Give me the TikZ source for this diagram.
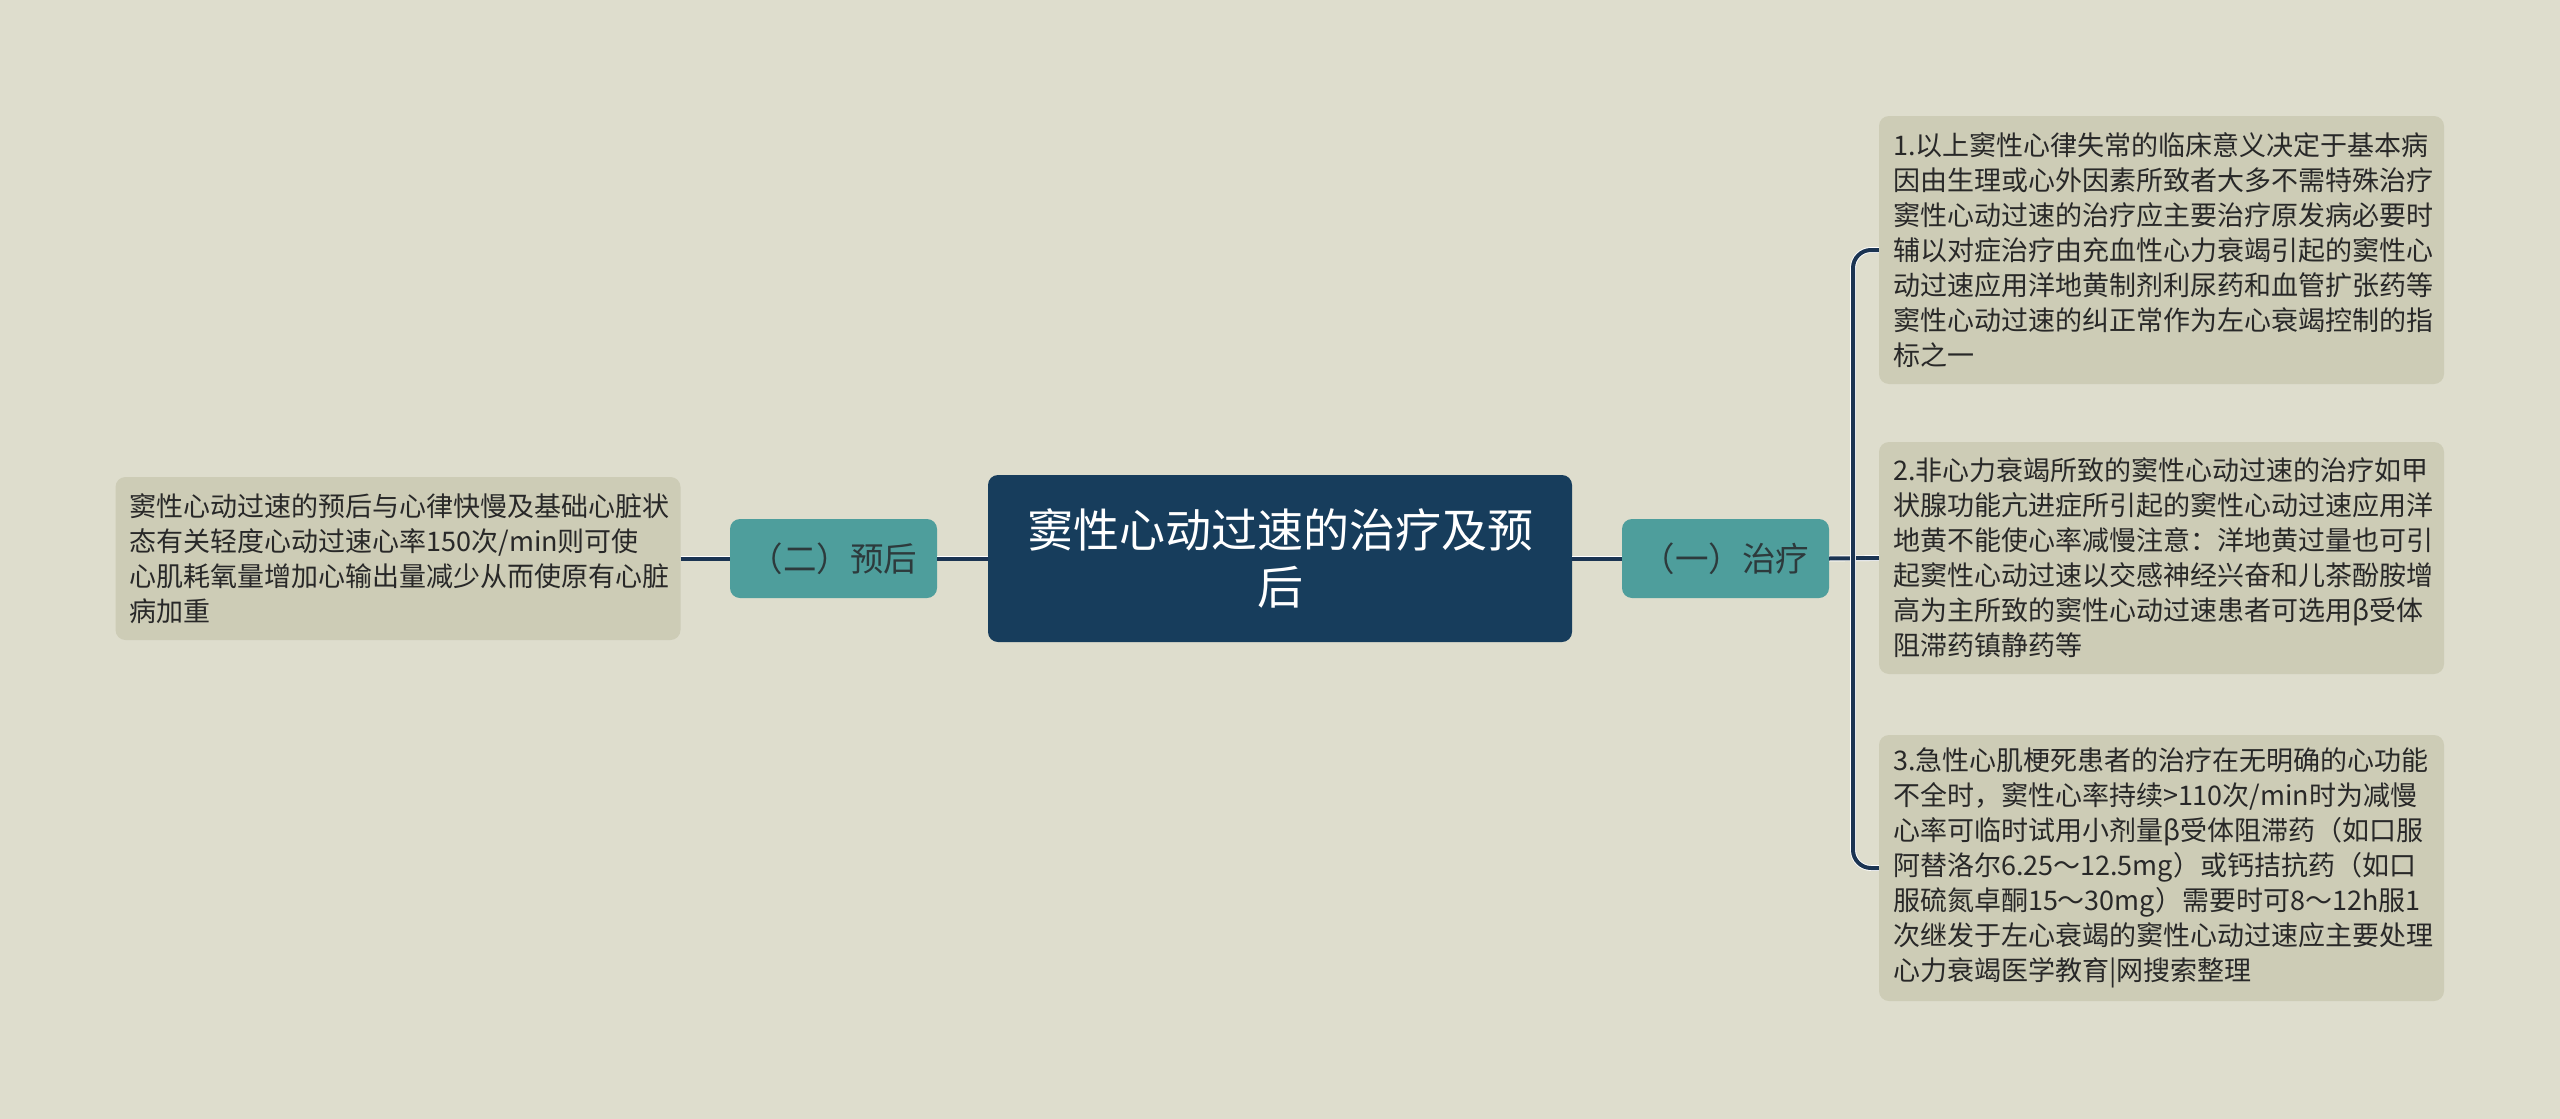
\documentclass[tikz,border=0pt]{standalone}
\usepackage{fontspec}
\newfontfamily\cjk{Noto Sans CJK SC}
\definecolor{bgc}{RGB}{222,221,205}
\definecolor{leafc}{RGB}{205,204,182}
\definecolor{rootc}{RGB}{23,61,92}
\definecolor{branchc}{RGB}{78,158,156}
\definecolor{linec}{RGB}{27,52,82}
\definecolor{txtc}{RGB}{40,40,40}
\definecolor{btxtc}{RGB}{45,58,60}
\tikzset{
  leafbox/.style={fill=leafc, rounded corners=10pt, text=txtc, align=left,
    font=\cjk\fontsize{27}{35}\selectfont, inner xsep=0pt, inner ysep=0pt,
    minimum width=565pt, text width=537pt},
  branchbox/.style={fill=branchc, rounded corners=10pt, text=btxtc,
    font=\cjk\fontsize{33.5}{40}\selectfont, minimum width=207pt, minimum height=79pt, inner sep=0pt},
  rootbox/.style={fill=rootc, rounded corners=10pt, text=white, align=center,
    font=\cjk\fontsize{46}{57}\selectfont, minimum width=584pt, minimum height=167pt, inner sep=0pt},
  conn/.style={draw=white, double=linec, double distance=4pt, line width=0.9pt}
}
\begin{document}
\begin{tikzpicture}[x=1pt,y=-1pt]
\useasboundingbox (0,0) rectangle (2560,1119);
\fill[bgc] (0,0) rectangle (2560,1119);

\node[rootbox] (root) at (1280,558.5) {窦性心动过速的治疗及预\\后};
\node[branchbox] (lb) at (833.5,558.5) {（二）预后};
\node[branchbox] (rb) at (1725.5,558.5) {（一）治疗};

\node[leafbox, minimum height=163pt] (ll) at (398,558.5)
{窦性心动过速的预后与心律快慢及基础心脏状\\态有关轻度心动过速心率150次/min则可使\\心肌耗氧量增加心输出量减少从而使原有心脏\\病加重};

\node[leafbox, minimum height=268pt] (r1) at (2161.5,250)
{1.以上窦性心律失常的临床意义决定于基本病\\因由生理或心外因素所致者大多不需特殊治疗\\窦性心动过速的治疗应主要治疗原发病必要时\\辅以对症治疗由充血性心力衰竭引起的窦性心\\动过速应用洋地黄制剂利尿药和血管扩张药等\\窦性心动过速的纠正常作为左心衰竭控制的指\\标之一};

\node[leafbox, minimum height=232pt] (r2) at (2161.5,558)
{2.非心力衰竭所致的窦性心动过速的治疗如甲\\状腺功能亢进症所引起的窦性心动过速应用洋\\地黄不能使心率减慢注意：洋地黄过量也可引\\起窦性心动过速以交感神经兴奋和儿茶酚胺增\\高为主所致的窦性心动过速患者可选用β受体\\阻滞药镇静药等};

\node[leafbox, minimum height=266pt] (r3) at (2161.5,868)
{3.急性心肌梗死患者的治疗在无明确的心功能\\不全时，窦性心率持续>110次/min时为减慢\\心率可临时试用小剂量β受体阻滞药（如口服\\阿替洛尔6.25～12.5mg）或钙拮抗药（如口\\服硫氮卓酮15～30mg）需要时可8～12h服1\\次继发于左心衰竭的窦性心动过速应主要处理\\心力衰竭医学教育|网搜索整理};

\coordinate (jx) at (1853,558);
\draw[conn] (ll.east) -- (lb.west);
\draw[conn] (lb.east) -- (root.west);
\draw[conn] (root.east) -- (rb.west);
\draw[conn] (rb.east) -- (r2.west);
\draw[conn, rounded corners=18pt] (r1.west) -| (jx) |- (r3.west);
\end{tikzpicture}
\end{document}
